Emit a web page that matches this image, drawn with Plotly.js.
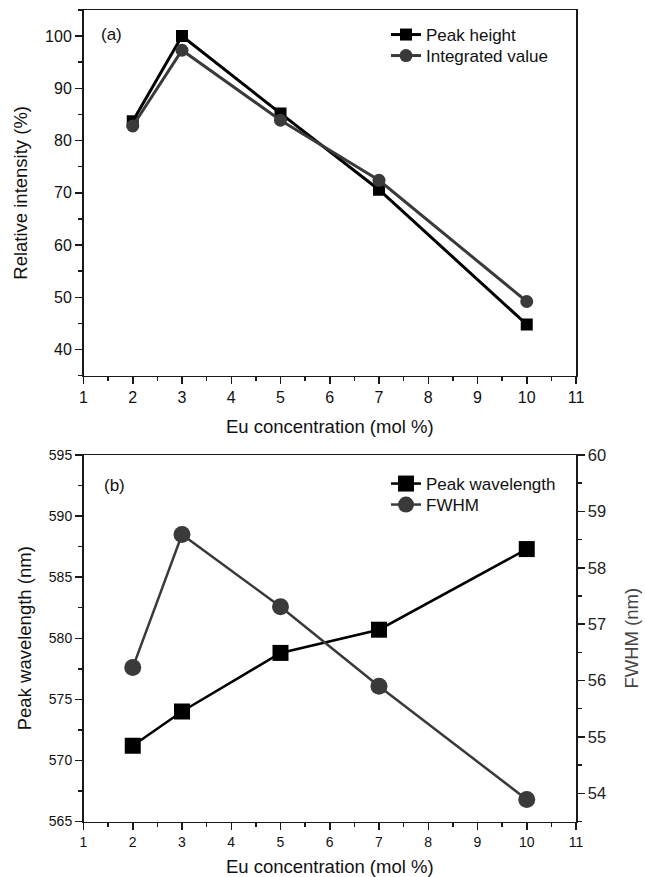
<!DOCTYPE html>
<html>
<head>
<meta charset="utf-8">
<script src="https://cdn.plot.ly/plotly-3.0.1.min.js"></script>
<style>html,body{margin:0;padding:0;background:#fff;}#chart{width:645px;height:877px;}</style>
</head>
<body>
<div id="chart"></div>
<script>
// Eu concentration (mol %)
const euConc = [2, 3, 5, 7, 10];
// panel (a)
const peakHeight = [83.7, 100, 85.2, 70.6, 44.8];
const integratedValue = [82.8, 97.3, 83.9, 72.4, 49.2];
// panel (b)
const peakWavelength = [571.2, 574.0, 578.8, 580.7, 587.3];
const fwhm = [56.23, 58.59, 57.31, 55.90, 53.89];

const FONT = 'Liberation Sans, Arial, sans-serif';
const W = 645, H = 877;
const px = v => v / W;
const py = v => 1 - v / H;

const xDom = [px(83.5), px(576)];
const topDom = [py(375.7), py(10)];
const botDom = [py(821.5), py(455)];

const black = '#000000', grey = '#3a3a3a', axc = '#1a1a1a';
const TF = 18.5;

const traces = [
  {x: euConc, y: peakHeight, name: 'Peak height', type: 'scatter', mode: 'lines+markers',
   xaxis: 'x', yaxis: 'y', legend: 'legend',
   line: {color: black, width: 3}, marker: {symbol: 'square', size: 12, color: black}},
  {x: euConc, y: integratedValue, name: 'Integrated value', type: 'scatter', mode: 'lines+markers',
   xaxis: 'x', yaxis: 'y', legend: 'legend3',
   line: {color: grey, width: 3}, marker: {symbol: 'circle', size: 13, color: grey}},
  {x: euConc, y: peakWavelength, name: 'Peak wavelength', type: 'scatter', mode: 'lines+markers',
   xaxis: 'x2', yaxis: 'y2', legend: 'legend2',
   line: {color: black, width: 2.5}, marker: {symbol: 'square', size: 16, color: black}},
  {x: euConc, y: fwhm, name: 'FWHM', type: 'scatter', mode: 'lines+markers',
   xaxis: 'x2', yaxis: 'y3', legend: 'legend4',
   line: {color: grey, width: 2.5}, marker: {symbol: 'circle', size: 17, color: grey}}
];

function xAxis(anchor, dom, fs, so) {
  return {
    domain: dom, anchor: anchor, range: [1, 11], dtick: 1, tick0: 1,
    showgrid: false, zeroline: false, showline: true, mirror: true,
    linecolor: axc, linewidth: 1.5, ticks: 'outside', ticklen: 7, tickwidth: 1.5, tickcolor: axc,
    minor: {ticks: 'outside', ticklen: 4, tickwidth: 1.5, tickcolor: axc, dtick: 0.5, showgrid: false},
    tickfont: {family: FONT, size: fs, color: '#111'},
    title: {text: 'Eu concentration (mol %)', font: {family: FONT, size: TF, color: '#111'}, standoff: so},
    fixedrange: true
  };
}

function leg(yTop) {
  return {
    x: px(386), y: py(yTop), xanchor: 'left', yanchor: 'top',
    bgcolor: 'rgba(0,0,0,0)', borderwidth: 0, tracegroupgap: 0,
    font: {family: FONT, size: 17, color: '#111'}
  };
}

const layout = {
  width: W, height: H,
  margin: {l: 0, r: 0, t: 0, b: 0},
  paper_bgcolor: '#fff', plot_bgcolor: '#fff',
  font: {family: FONT, color: '#111'},
  xaxis: xAxis('y', xDom, 16, 14),
  yaxis: {
    domain: topDom, anchor: 'x', range: [35, 105], dtick: 10, tick0: 0,
    showgrid: false, zeroline: false, showline: true, mirror: true,
    linecolor: axc, linewidth: 1.5, ticks: 'outside', ticklen: 7, tickwidth: 1.5, tickcolor: axc,
    minor: {ticks: 'outside', ticklen: 4, tickwidth: 1.5, tickcolor: axc, dtick: 5, showgrid: false},
    tickfont: {family: FONT, size: 16, color: '#111'},
    tickvals: [40, 50, 60, 70, 80, 90, 100],
    title: {text: 'Relative intensity (%)', font: {family: FONT, size: TF, color: '#111'}, standoff: 12}
  },
  xaxis2: xAxis('y2', xDom, 14, 14),
  yaxis2: {
    domain: botDom, anchor: 'x2', range: [565, 595], dtick: 5, tick0: 565,
    showgrid: false, zeroline: false, showline: true, mirror: true,
    linecolor: axc, linewidth: 1.5, ticks: 'outside', ticklen: 7, tickwidth: 1.5, tickcolor: axc,
    minor: {ticks: 'outside', ticklen: 4, tickwidth: 1.5, tickcolor: axc, dtick: 2.5, showgrid: false},
    tickfont: {family: FONT, size: 14, color: '#111'},
    title: {text: 'Peak wavelength (nm)', font: {family: FONT, size: TF, color: '#111'}, standoff: 12}
  },
  yaxis3: {
    overlaying: 'y2', side: 'right', anchor: 'x2', range: [53.5, 60], dtick: 1, tick0: 54,
    showgrid: false, zeroline: false, showline: true,
    linecolor: axc, linewidth: 1.5, ticks: 'outside', ticklen: 7, tickwidth: 1.5, tickcolor: axc,
    minor: {ticks: 'outside', ticklen: 4, tickwidth: 1.5, tickcolor: axc, dtick: 0.5, showgrid: false},
    tickfont: {family: FONT, size: 16.5, color: '#222'},
    title: {text: 'FWHM (nm)', font: {family: FONT, size: TF, color: '#444'}, standoff: 20}
  },
  legend: leg(17),
  legend3: leg(38),
  legend2: leg(466),
  legend4: leg(487),
  annotations: [
    {text: '(a)', xref: 'paper', yref: 'paper', x: px(99), y: py(35), xanchor: 'left', yanchor: 'middle',
     showarrow: false, font: {family: FONT, size: 17, color: '#111'}},
    {text: '(b)', xref: 'paper', yref: 'paper', x: px(102), y: py(485), xanchor: 'left', yanchor: 'middle',
     showarrow: false, font: {family: FONT, size: 17, color: '#111'}}
  ],
  showlegend: true
};

Plotly.newPlot('chart', traces, layout, {staticPlot: true, displayModeBar: false});
</script>
</body>
</html>
